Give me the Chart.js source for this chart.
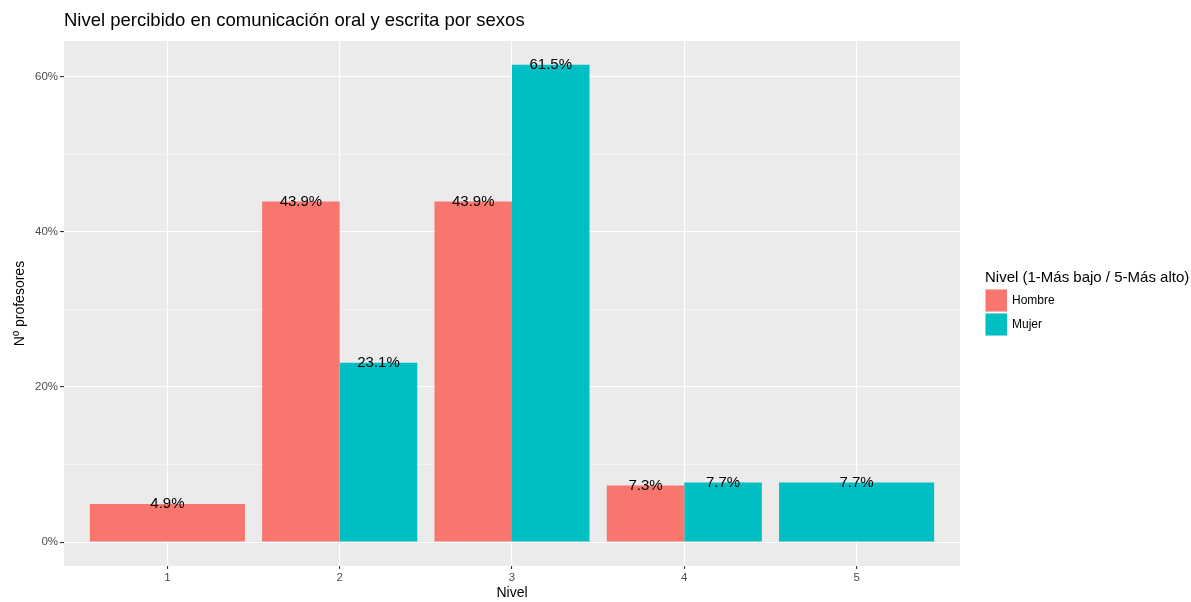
<!DOCTYPE html>
<html>
<head>
<meta charset="utf-8">
<script src="https://cdn.jsdelivr.net/npm/chart.js@4.4.1/dist/chart.umd.min.js"></script>
<style>
  html, body { margin: 0; padding: 0; background: #fff; }
  #wrap { width: 1191px; height: 602px; }
</style>
</head>
<body>
<div id="wrap"><canvas id="chart" width="1191" height="602"></canvas></div>
<script>
// Datos
const niveles = [1, 2, 3, 4, 5];
const hombre = [4.9, 43.9, 43.9, 7.3, null];
const mujer = [null, 23.1, 61.5, 7.7, 7.7];
const yTicks = [0, 10, 20, 30, 40, 50, 60];
const seriesNames = ['Hombre', 'Mujer'];
const colores = ['#F8766D', '#00BFC4'];

const FONT = "'Liberation Sans', Arial, sans-serif";

// fondo gris del panel
const panelBg = {
    id: 'panelBg',
    beforeDraw(chart) {
        const a = chart.chartArea, ctx = chart.ctx;
        ctx.save();
        ctx.fillStyle = '#EBEBEB';
        ctx.fillRect(a.left, a.top, a.right - a.left, a.bottom - a.top);
        ctx.restore();
    }
};

// etiquetas de porcentaje sobre cada barra
const barLabels = {
    id: 'barLabels',
    afterDatasetsDraw(chart) {
        const ctx = chart.ctx;
        ctx.save();
        ctx.font = '15px ' + FONT;
        ctx.fillStyle = '#000';
        ctx.textAlign = 'center';
        ctx.textBaseline = 'middle';
        chart.data.datasets.forEach((ds, i) => {
            chart.getDatasetMeta(i).data.forEach((bar, j) => {
                const v = ds.data[j];
                if (v === null || v === undefined) return;
                ctx.fillText(v.toFixed(1) + '%', bar.x, bar.y);
            });
        });
        ctx.restore();
    }
};

// leyenda estilo ggplot a la derecha
const sideLegend = {
    id: 'sideLegend',
    afterDraw(chart) {
        const ctx = chart.ctx;
        const x0 = 985, y0 = 289;
        ctx.save();
        ctx.fillStyle = '#000';
        ctx.font = '15px ' + FONT;
        ctx.textAlign = 'left';
        ctx.textBaseline = 'alphabetic';
        ctx.fillText('Nivel (1-Más bajo / 5-Más alto)', x0, y0 - 7);
        ctx.font = '12px ' + FONT;
        ctx.textBaseline = 'middle';
        seriesNames.forEach((name, i) => {
            const y = y0 + i * 24;
            ctx.fillStyle = '#F2F2F2';
            ctx.fillRect(x0, y, 22, 23);
            ctx.fillStyle = colores[i];
            ctx.fillRect(x0 + 0.5, y + 0.5, 21.5, 22);
            ctx.fillStyle = '#000';
            ctx.fillText(name, x0 + 27, y + 12);
        });
        ctx.restore();
    }
};

new Chart(document.getElementById('chart').getContext('2d'), {
    type: 'bar',
    data: {
        labels: niveles,
        datasets: seriesNames.map((name, i) => ({
            label: name,
            data: i === 0 ? hombre : mujer,
            backgroundColor: colores[i],
            borderWidth: 0,
            categoryPercentage: 0.9,
            barPercentage: 1.0,
            skipNull: true
        }))
    },
    options: {
        responsive: false,
        animation: false,
        layout: { padding: { left: 0, right: 231, top: 0, bottom: 0 } },
        plugins: {
            legend: { display: false },
            tooltip: { enabled: false },
            title: {
                display: true,
                text: 'Nivel percibido en comunicación oral y escrita por sexos',
                align: 'start',
                fullSize: false,
                color: '#000',
                font: { family: FONT, size: 18.5, weight: 'normal' },
                padding: { top: 10, bottom: 8.8 }
            }
        },
        scales: {
            x: {
                type: 'linear',
                min: 0.4,
                max: 5.6,
                offset: false,
                afterBuildTicks: s => { s.ticks = niveles.map(v => ({ value: v })); },
                afterFit: s => { s.height = 36; },
                grid: {
                    offset: false,
                    color: '#FFFFFF',
                    lineWidth: 1.1,
                    drawTicks: true,
                    tickLength: 3,
                    tickColor: '#333333',
                    tickWidth: 1.1
                },
                border: { display: false },
                ticks: {
                    color: '#4D4D4D',
                    font: { family: FONT, size: 11.5 },
                    padding: 2,
                    callback: v => String(v)
                },
                title: {
                    display: true,
                    text: 'Nivel',
                    color: '#000',
                    font: { family: FONT, size: 14 },
                    padding: { top: 0, bottom: 0 }
                }
            },
            y: {
                min: -3.075,
                max: 64.575,
                afterBuildTicks: s => { s.ticks = yTicks.map(v => ({ value: v })); },
                afterFit: s => { s.width = 64; },
                grid: {
                    color: '#FFFFFF',
                    lineWidth: ctx => (ctx.tick && ctx.tick.value % 20 === 0) ? 1.1 : 0.5,
                    drawTicks: true,
                    tickLength: 4,
                    tickColor: ctx => (ctx.tick && ctx.tick.value % 20 === 0) ? '#333333' : 'rgba(0,0,0,0)',
                    tickWidth: 1.1
                },
                border: { display: false },
                ticks: {
                    color: '#4D4D4D',
                    font: { family: FONT, size: 11.5 },
                    padding: 2,
                    callback: v => (v % 20 === 0 ? v + '%' : '')
                },
                title: {
                    display: true,
                    text: 'Nº profesores',
                    color: '#000',
                    font: { family: FONT, size: 14 },
                    padding: { top: 12, bottom: 0 }
                }
            }
        }
    },
    plugins: [panelBg, barLabels, sideLegend]
});
</script>
</body>
</html>
